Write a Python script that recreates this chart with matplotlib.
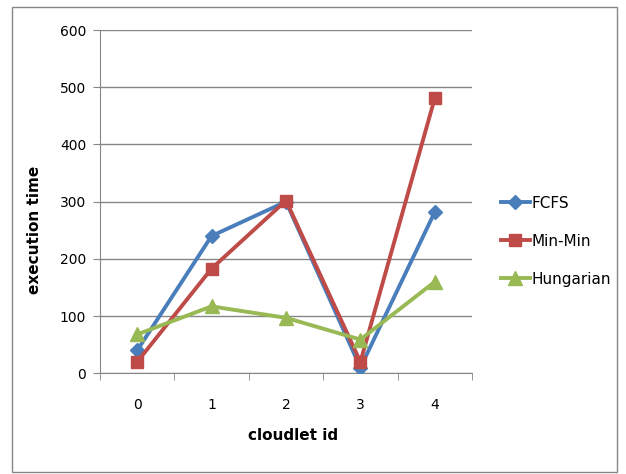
import matplotlib
matplotlib.use('Agg')
import matplotlib.pyplot as plt
from matplotlib.patches import Rectangle

plt.rcParams['font.family'] = ['Liberation Sans Narrow', 'DejaVu Sans']

# Data
cloudlets = [0, 1, 2, 3, 4]
fcfs = [40, 240, 300, 10, 282]
min_min = [20, 183, 302, 20, 481]
hungarian = [68, 117, 97, 59, 160]

y_ticks = [0, 100, 200, 300, 400, 500, 600]

fig = plt.figure(figsize=(6.26, 4.74), dpi=100)
ax = fig.add_axes([0.1597, 0.2124, 0.5943, 0.7243])

ax.plot(cloudlets, fcfs, color='#4A7EBB', lw=2.8, marker='D', ms=7.5, label='FCFS', zorder=3)
ax.plot(cloudlets, min_min, color='#BE4B48', lw=2.8, marker='s', ms=9, label='Min-Min', zorder=3)
ax.plot(cloudlets, hungarian, color='#98B954', lw=2.8, marker='^', ms=9.5, label='Hungarian', zorder=3)

ax.set_xlim(-0.5, 4.5)
ax.set_ylim(0, 600)
ax.set_yticks(y_ticks)
ax.set_xticks(cloudlets)
ax.set_xticks([-0.5, 0.5, 1.5, 2.5, 3.5, 4.5], minor=True)
ax.tick_params(axis='x', which='major', length=0, pad=18, labelsize=10)
ax.tick_params(axis='x', which='minor', length=5, color='#868686', direction='out')
ax.tick_params(axis='y', length=5, color='#868686', labelsize=10, pad=5)
ax.grid(axis='y', color='#868686', lw=1)
ax.set_axisbelow(True)
for side in ['top', 'right']:
    ax.spines[side].set_visible(False)
for side in ['left', 'bottom']:
    ax.spines[side].set_color('#868686')

ax.set_xlabel('cloudlet id', fontweight='bold', fontsize=11)
ax.xaxis.set_label_coords(0.518, -0.16)
ax.set_ylabel('execution time', fontweight='bold', fontsize=11)
ax.yaxis.set_label_coords(-0.155, 0.417)

ax.legend(loc='center left', bbox_to_anchor=(1.04, 0.385), frameon=False,
          fontsize=11, handlelength=1.9, labelspacing=1.5, handletextpad=0.15)

# outer chart border
fig.patches.append(Rectangle((12 / 626, 2 / 474), 605 / 626, 465 / 474,
                             transform=fig.transFigure, fill=False,
                             edgecolor='#868686', lw=1))

fig.savefig('out.png', dpi=100)
